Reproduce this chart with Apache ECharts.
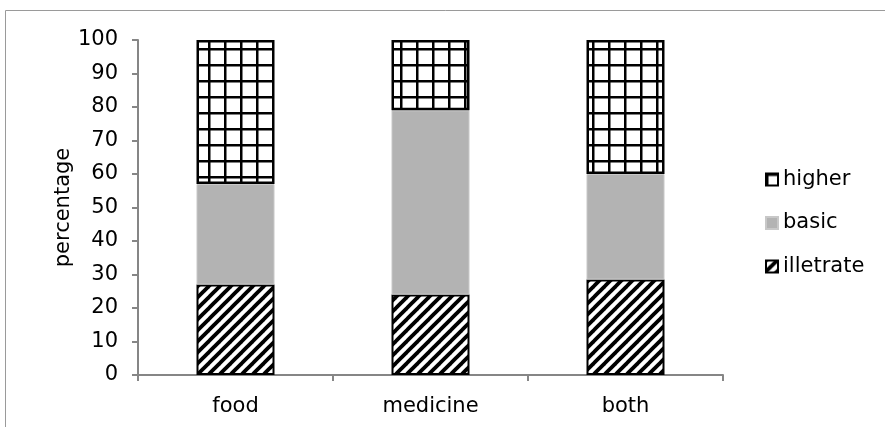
<!DOCTYPE html>
<html>
<head>
<meta charset="utf-8">
<script src="https://cdn.jsdelivr.net/npm/echarts@6/dist/echarts.min.js"></script>
<style>
  html, body { margin: 0; padding: 0; background: #fff; }
  #chart { width: 885px; height: 427px; }
</style>
</head>
<body>
<div id="chart"></div>
<script>
// Education level by type of aid received (percent of respondents)
const categories = ['food', 'medicine', 'both'];
const illetrate = [27, 24, 28.5];
const basic = [30, 55, 31.5];
const higher = [43, 21, 40];
const yTicks = { min: 0, max: 100, interval: 10 };

const FONT = 'DejaVu Sans';
const FS = 21;

// Square grid fill for the "higher" segments
function gridPattern() {
  const c = document.createElement('canvas');
  c.width = 16; c.height = 16;
  const g = c.getContext('2d');
  g.fillStyle = '#fff';
  g.fillRect(0, 0, 16, 16);
  g.fillStyle = '#000';
  g.fillRect(0, 0, 2.5, 16);
  g.fillRect(0, 0, 16, 2.5);
  return c;
}

// Diagonal hatching for the "illetrate" segments
function stripePattern() {
  const s = 11;
  const c = document.createElement('canvas');
  c.width = s; c.height = s;
  const g = c.getContext('2d');
  g.fillStyle = '#fff';
  g.fillRect(0, 0, s, s);
  g.strokeStyle = '#000';
  g.lineWidth = 3.8;
  g.lineCap = 'square';
  for (let k = -1; k <= 1; k++) {
    g.beginPath();
    g.moveTo(k * s, s);
    g.lineTo(k * s + s, 0);
    g.stroke();
  }
  return c;
}

const chart = echarts.init(document.getElementById('chart'), null, { renderer: 'canvas' });

const barWidth = '40%';

chart.setOption({
  animation: false,
  backgroundColor: '#fff',
  textStyle: { fontFamily: FONT },
  graphic: [{
    type: 'rect',
    shape: { x: 5.5, y: 10.5, width: 900, height: 430 },
    style: { fill: 'none', stroke: '#9a9a9a', lineWidth: 1 },
    silent: true, z: -1
  }],
  grid: { left: 138, right: 162, top: 40, bottom: 52 },
  legend: {
    orient: 'vertical',
    left: 760,
    top: 164,
    itemWidth: 12,
    itemHeight: 12,
    itemGap: 22.5,
    icon: 'rect',
    data: ['higher', 'basic', 'illetrate'],
    textStyle: { fontFamily: FONT, fontSize: FS, color: '#000' }
  },
  xAxis: {
    type: 'category',
    data: categories,
    axisLine: { lineStyle: { color: '#868686', width: 2 } },
    axisTick: { show: true, length: 6, lineStyle: { color: '#868686', width: 2 } },
    axisLabel: { color: '#000', fontSize: FS, fontFamily: FONT, margin: 21 }
  },
  yAxis: {
    type: 'value',
    min: yTicks.min, max: yTicks.max, interval: yTicks.interval,
    name: 'percentage',
    nameLocation: 'middle',
    nameGap: 64,
    nameMoveOverlap: false,
    nameTextStyle: { color: '#000', fontSize: FS, fontFamily: FONT },
    axisLine: { show: true, lineStyle: { color: '#868686', width: 2 } },
    axisTick: { show: true, length: 6, lineStyle: { color: '#868686', width: 2 } },
    axisLabel: { color: '#000', fontSize: FS, fontFamily: FONT, margin: 20 },
    splitLine: { show: false }
  },
  series: [
    {
      name: 'illetrate', type: 'bar', stack: 'edu', barWidth: barWidth,
      data: illetrate,
      itemStyle: { color: { image: stripePattern(), repeat: 'repeat' }, borderColor: '#000', borderWidth: 2 }
    },
    {
      name: 'basic', type: 'bar', stack: 'edu', barWidth: barWidth,
      data: basic,
      itemStyle: { color: '#b3b3b3', borderColor: '#c8c8c8', borderWidth: 1 }
    },
    {
      name: 'higher', type: 'bar', stack: 'edu', barWidth: barWidth,
      data: higher,
      itemStyle: { color: { image: gridPattern(), repeat: 'repeat' }, borderColor: '#000', borderWidth: 2.5 }
    }
  ]
});
</script>
</body>
</html>
